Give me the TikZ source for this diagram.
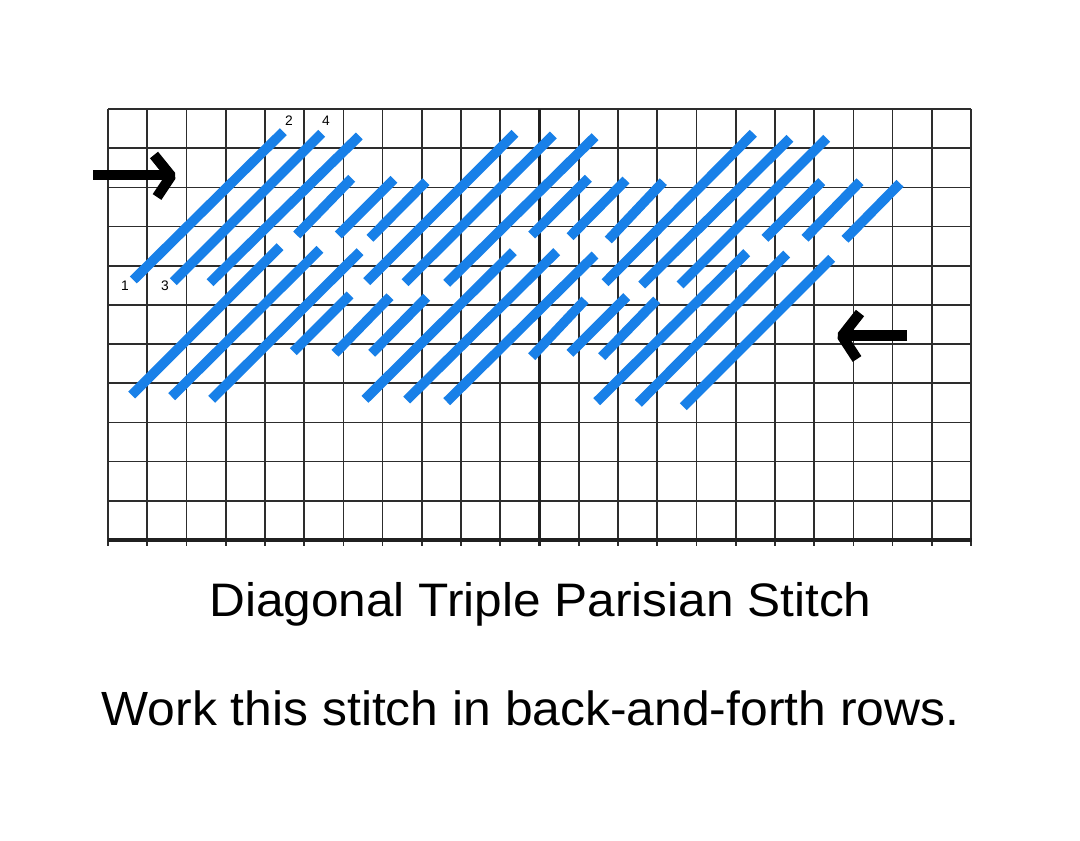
\documentclass[tikz,border=0pt]{standalone}
\usepackage{fontspec}
\setmainfont{Liberation Sans}
\definecolor{stitchblue}{RGB}{24,128,232}
\definecolor{gridgray}{RGB}{45,45,45}
\begin{document}
\begin{tikzpicture}[x=0.5pt,y=-0.5pt,
  gridline/.style={draw=gridgray,line width=0.85pt},
  heavyline/.style={draw=gridgray!70!black,line width=1.6pt},
  stitch/.style={draw=stitchblue,line width=4.9pt,line cap=butt},
  arrowline/.style={draw=black,line width=5.2pt},
  holelabel/.style={inner sep=0pt,font=\fontsize{6.9}{8}\selectfont},
  bigtext/.style={inner sep=0pt,anchor=base}]
\useasboundingbox[fill=white] (0,0) rectangle (1080,840);
% grid
\foreach \i in {0,...,22}{
  \draw[gridline] ({108+39.23*\i},109) -- ({108+39.23*\i},545.5);
}
\foreach \j in {0,...,10}{
  \draw[gridline] (108,{109+39.18*\j}) -- (971.1,{109+39.18*\j});
}
\draw[heavyline] (539.5,109) -- (539.5,545.5);
\draw[heavyline] (107.6,540) -- (971.5,540);
% row 1 stitches
\foreach \a/\b/\c/\d in {
  133.3/280/283.3/131.7, 173.3/281.7/321.7/133.3, 210/282.7/359.3/136,
  296.7/235/351.7/178.3, 338.3/235/394/179.3, 370/238.3/426/181.7,
  366.7/281.7/515/133.3, 405/282.7/553.3/135, 446.7/283.3/595/136.7,
  531.7/235/588.3/178.3, 570/236.7/626/180, 608.3/240/663.3/181.7,
  605/282.7/753.3/133.3, 641.7/285/790/138.3, 680/285/826.7/138.3,
  765/238.3/821.7/181.7, 805/238.3/860/181.7, 845/239.3/900/183.3}{
  \draw[stitch] (\a,\b) -- (\c,\d);
}
% row 2 stitches
\foreach \a/\b/\c/\d in {
  131.7/395/280/246.7, 171.7/396.7/320/249.3, 211.7/399.3/360/251.7,
  293.3/351.7/350/295, 335/353.3/390/296.7, 371.7/353.3/426.7/297.3,
  365/399.3/513.3/251.7, 406.7/400/556.7/251.7, 446.7/401.7/595/255,
  531.7/356.7/585/300, 570/353.3/626.7/296.7, 601.7/356.7/656.7/300,
  596.7/401.7/746.7/252.7, 638.3/403.3/786.7/254, 683.3/406.7/831.7/258.3}{
  \draw[stitch] (\a,\b) -- (\c,\d);
}
% hole numbers
\node[holelabel] (n1) at (125,286) {1};
\node[holelabel] (n3) at (165,286) {3};
\node[holelabel] (n2) at (289,120.5) {2};
\node[holelabel] (n4) at (326,120.5) {4};
% arrows
\coordinate (ra1) at (93,175);
\coordinate (ra2) at (168,175);
\draw[arrowline] (ra1) -- (ra2);
\draw[arrowline,line join=bevel] (154,155) -- (171,176) -- (157,197);
\coordinate (la1) at (907,335.5);
\coordinate (la2) at (844,335.5);
\draw[arrowline] (la1) -- (la2);
\draw[arrowline,line join=bevel] (860,313) -- (842,336) -- (857,359);
% captions
\node[bigtext] (title) at (540.5,616.7) {\scalebox{1.055}[1]{\fontsize{23.5}{28}\selectfont Diagonal Triple Parisian Stitch}};
\node[bigtext] (note) at (530.5,725) {\scalebox{1.038}[1]{\fontsize{24}{28}\selectfont Work this stitch in back-and-forth rows.}};
\end{tikzpicture}
\end{document}
